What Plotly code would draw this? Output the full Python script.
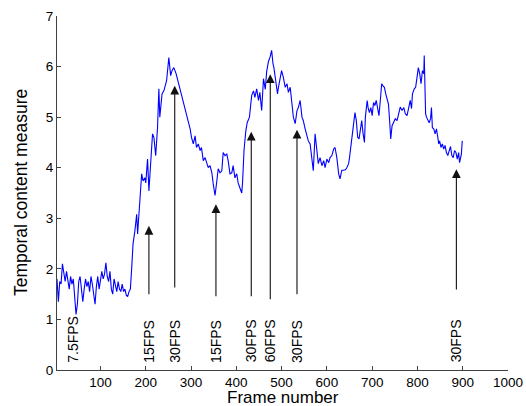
import plotly.graph_objects as go

frames = [
    4, 7, 10, 13, 16, 19, 22, 25, 28, 31, 34, 37, 40, 43, 46, 49, 52, 55, 58, 61,
    64, 67, 70, 73, 76, 79, 82, 85, 88, 91, 94, 97, 100, 103, 106, 109, 112, 115, 118, 121,
    124, 127, 130, 133, 136, 139, 142, 145, 148, 151, 154, 157, 160, 163, 166,
    169, 172, 176, 180, 182, 187, 191, 194, 198, 200, 204, 207, 211, 215, 218, 222, 226, 229,
    231, 236, 240, 246, 251, 255, 258, 262, 267, 271, 277, 281, 287, 290, 293,
    298, 301, 305, 309, 312, 316, 320, 323, 327, 331, 335, 338, 342, 346, 349, 353, 357,
    360, 364, 368, 371, 375, 379, 382, 386, 390, 393, 397, 401, 404, 408, 412, 414, 417,
    421, 424, 429, 434, 438, 441, 445, 449, 452, 456, 460, 464, 467, 471, 475, 478, 481,
    483, 487, 491, 493, 497, 500, 504, 508, 512, 515, 519, 523, 526, 530, 534, 537, 541,
    545, 548, 552, 556, 559, 563, 567, 570, 574, 578, 581, 585, 589, 593, 596, 600, 604,
    607, 611, 615, 618, 622, 626, 629, 633, 637, 641, 644, 648, 650, 653, 656, 659, 662,
    665, 668, 671, 674, 677, 680, 683, 685, 689, 691, 694, 697, 700, 703, 706, 709, 712,
    715, 718, 721, 724, 727, 730, 733, 736, 739, 741, 744, 747, 751, 755, 758, 762, 766,
    770, 773, 777, 781, 784, 787, 789, 793, 796, 799, 802, 805, 808, 811, 814, 815, 818,
    820, 823, 826, 829, 831, 833, 836, 839, 842, 845, 847, 849, 852, 855, 858, 861, 864,
    867, 870, 873, 876, 879, 882, 885, 888, 891, 893, 895, 897, 899,
]
values = [
    1.80, 1.35, 1.75, 1.70, 2.10, 1.90, 1.75, 1.95, 1.80, 1.60, 1.85, 1.70, 1.80, 1.45, 1.10, 1.30, 1.75, 1.85, 1.55, 1.35,
    1.60, 1.80, 1.65, 1.75, 1.55, 1.85, 1.70, 1.50, 1.30, 1.65, 1.85, 1.60, 1.75, 1.95, 1.80, 1.90, 2.12, 1.85, 1.75, 1.95,
    1.60, 1.50, 1.80, 1.65, 1.55, 1.75, 1.60, 1.55, 1.70, 1.55, 1.60, 1.48, 1.45, 1.55, 1.60,
    2.02, 2.50, 2.75, 3.08, 2.69, 3.28, 3.88, 3.74, 3.80, 3.70, 4.17, 3.54, 4.17, 4.67, 4.60, 4.24, 4.79, 5.56,
    5.00, 5.46, 5.52, 5.72, 6.18, 5.82, 5.92, 5.98, 5.86, 5.72, 5.52, 5.39, 5.19, 5.09, 4.93,
    4.77, 4.60, 4.47, 4.63, 4.40, 4.47, 4.34, 4.40, 4.14, 4.20, 4.08, 4.00, 4.04, 3.90, 3.68, 3.45, 3.74,
    3.98, 3.90, 3.94, 4.30, 4.24, 4.27, 4.14, 3.88, 3.90, 4.04, 3.80, 3.88, 3.70, 3.60, 3.50, 3.74, 4.34,
    4.73, 4.89, 5.00, 5.43, 5.52, 5.39, 5.56, 5.33, 5.49, 5.13, 5.76, 5.55, 5.90, 6.10, 6.20, 6.32, 6.06,
    5.98, 5.72, 5.46, 5.59, 5.78, 5.92, 5.78, 5.59, 5.66, 5.49, 5.59, 5.26, 5.00, 4.87, 5.13, 5.19, 5.33,
    5.00, 4.93, 4.77, 4.60, 4.53, 4.47, 4.14, 3.94, 4.67, 4.24, 4.08, 4.20, 4.04, 4.14, 4.00, 4.17, 4.10,
    4.20, 4.24, 4.37, 4.40, 4.20, 3.88, 3.78, 3.95, 3.95, 3.96, 4.00, 4.08, 4.20, 4.40, 4.60, 4.87, 5.09,
    4.93, 4.60, 4.57, 4.73, 4.93, 4.67, 4.50, 5.00, 5.33, 5.19, 5.09, 5.19, 5.03, 5.29, 5.23, 5.33, 5.13,
    5.03, 5.33, 5.66, 5.62, 5.59, 5.46, 5.33, 5.26, 4.87, 4.57, 4.83, 4.89, 4.97, 4.93, 5.03, 5.20, 5.13,
    5.19, 5.07, 5.03, 5.20, 5.33, 5.17, 5.46, 5.56, 5.59, 5.78, 5.98, 5.86, 5.66, 5.92, 5.86, 6.22, 5.07,
    5.00, 4.93, 4.89, 4.97, 5.19, 4.79, 4.77, 4.67, 4.77, 4.60, 4.47, 4.53, 4.40, 4.47, 4.37, 4.44, 4.30,
    4.24, 4.34, 4.42, 4.24, 4.20, 4.34, 4.30, 4.17, 4.30, 4.10, 4.20, 4.27, 4.53,
]

arrow_frames = [207, 264, 355, 433, 475, 534, 886]
arrow_tips = [2.85, 5.62, 3.28, 4.71, 5.85, 4.75, 3.97]
arrow_tails = [1.47, 1.60, 1.43, 1.43, 1.37, 1.47, 1.56]

label_frames = [39, 207, 264, 355, 433, 475, 534, 886]
label_texts = ["7.5FPS", "15FPS", "30FPS", "15FPS", "30FPS", "60FPS", "30FPS", "30FPS"]

x_ticks = [100, 200, 300, 400, 500, 600, 700, 800, 900, 1000]
y_ticks = [0, 1, 2, 3, 4, 5, 6, 7]

FONT = "Arial, Liberation Sans, sans-serif"

fig = go.Figure()
fig.add_trace(go.Scatter(x=frames, y=values, mode="lines",
                         line=dict(color="#0000FF", width=1.1),
                         showlegend=False, hoverinfo="skip"))

annotations = []
for f, tip, tail in zip(arrow_frames, arrow_tips, arrow_tails):
    annotations.append(dict(
        x=f, y=tip, ax=f, ay=tail, xref="x", yref="y", axref="x", ayref="y",
        text="", showarrow=True, arrowhead=2, arrowsize=1.6, arrowwidth=1.1,
        arrowcolor="#111111", standoff=0, startstandoff=0))
for f, t in zip(label_frames, label_texts):
    annotations.append(dict(
        x=f, y=0.11, xref="x", yref="y", text=t, showarrow=False,
        textangle=-90, xanchor="center", yanchor="bottom",
        font=dict(family=FONT, size=14, color="black")))
annotations.append(dict(
    x=0.5, y=0, xref="paper", yref="paper", text="Frame number", showarrow=False,
    xanchor="center", yanchor="middle", yshift=-27.5, borderpad=0,
    font=dict(family=FONT, size=17, color="black")))
annotations.append(dict(
    x=0, y=0.5, xref="paper", yref="paper", text="Temporal content measure",
    showarrow=False, textangle=-90, xanchor="center", yanchor="middle", xshift=-36,
    font=dict(family=FONT, size=17.5, color="black")))

fig.update_layout(
    width=526, height=406,
    margin=dict(l=57, r=18, t=16, b=36),
    paper_bgcolor="white", plot_bgcolor="white",
    font=dict(family=FONT, size=13, color="black"),
    annotations=annotations,
    xaxis=dict(range=[4, 1000], tickmode="array", tickvals=x_ticks,
               ticks="inside", ticklen=4, tickcolor="#404040",
               showline=True, linecolor="#404040", linewidth=1,
               showgrid=False, zeroline=False, automargin=False,
               tickfont=dict(family=FONT, size=13.5, color="black")),
    yaxis=dict(range=[0, 7], tickmode="array", tickvals=y_ticks,
               ticks="inside", ticklen=4, tickcolor="#404040",
               showline=True, linecolor="#404040", linewidth=1,
               showgrid=False, zeroline=False, automargin=False,
               tickfont=dict(family=FONT, size=13.5, color="black")),
)

fig.write_html("out.html")
